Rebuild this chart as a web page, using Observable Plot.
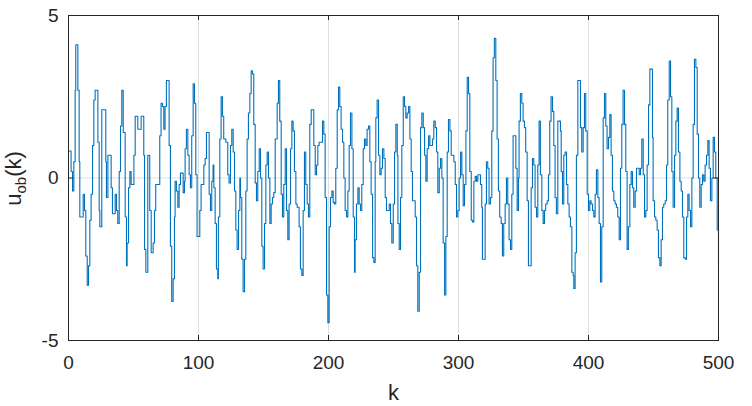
<!DOCTYPE html>
<html><head><meta charset="utf-8">
<script src="https://cdn.jsdelivr.net/npm/d3@7"></script>
<script src="https://cdn.jsdelivr.net/npm/@observablehq/plot@0.6"></script>
<style>html,body{margin:0;padding:0;background:#fff}svg{display:block}</style>
</head><body><div id="chart"></div>
<script>
// [k, u_ob(k)] : value starting at step k (stairs)
const uobSteps = [
[0,0.83],[2.0,0.2],[3.1,-0.4],[4.1,0.5],[5.1,2.7],[5.6,4.1],[7.2,2.7],[8.2,0.5],[8.7,-1.2],[11.3,-0.5],[12.3,-1.0],[13.3,-2.4],[14.4,-3.3],[15.4,-2.7],[16.4,-1.3],[17.4,-0.5],[18.5,1.0],[19.5,2.4],[20.5,2.7],[22.6,1.1],[23.6,-1.0],[24.1,-1.5],[25.6,2.1],[28.7,0.5],[29.2,-0.6],[30.3,0.7],[32.8,-0.3],[33.8,-1.1],[35.9,-0.5],[36.9,-1.0],[37.9,-1.4],[39.0,0.2],[40.0,1.6],[41.0,2.7],[42.1,1.4],[43.6,-1.2],[44.6,-2.7],[45.1,-2.0],[46.2,-0.3],[47.2,0.2],[48.2,-0.2],[50.3,0.7],[51.3,1.9],[53.3,1.5],[55.9,1.9],[57.9,0.7],[58.5,-2.2],[59.5,-2.9],[61.0,0.7],
[62.5,-1.0],[63.6,-2.3],[65.1,-2.0],[66.1,-1.0],[67.1,-0.2],[70.2,1.3],[71.2,2.3],[72.3,2.2],[73.3,1.5],[74.3,2.2],[75.3,3.0],[77.4,1.0],[78.4,-2.1],[79.4,-3.8],[80.5,-3.1],[81.5,-1.2],[82.0,-0.1],[83.0,-0.4],[84.1,-0.9],[85.1,-0.2],[86.1,0.15],[88.2,-0.45],[89.2,-0.1],[89.7,0.9],[90.7,1.5],[91.8,0.7],[92.8,0.1],[93.8,-0.3],[94.8,1.3],[95.9,2.9],[96.9,2.3],[97.9,0.1],[98.9,-1.8],[101.0,-1.0],[102.0,-0.2],[104.1,0.4],[105.1,0.6],[106.1,1.4],[108.2,-0.5],[109.2,-1.0],[110.2,-0.1],[111.2,0.4],[111.8,-0.3],[112.8,-1.4],[113.8,-2.8],[114.8,-3.1],[115.3,-1.2],[116.4,1.2],[117.4,2.5],[118.4,1.9],[119.4,1.2],[121.0,1.1],[122.5,0.1],[123.5,-0.15],[124.6,1.0],[125.6,1.5],
[126.7,0.8],[127.7,-0.4],[128.7,-1.6],[129.7,-2.2],[130.8,-1.0],[131.8,0.0],[132.3,-0.6],[133.3,-2.5],[134.3,-3.5],[135.4,-2.5],[136.4,-0.4],[137.4,1.2],[138.4,2.0],[139.5,2.6],[140.5,3.3],[141.5,3.2],[142.5,1.65],[143.6,-0.15],[144.6,-0.7],[145.6,0.2],[146.7,0.9],[147.7,0.0],[148.7,-2.1],[149.7,-2.8],[150.8,-1.4],[151.8,0.4],[152.8,0.8],[153.8,0.0],[154.9,-1.4],[155.9,-0.8],[156.9,-0.6],[157.9,-0.45],[159.0,1.2],[160.5,2.3],[161.5,3.0],[162.5,1.75],[163.6,-0.5],[164.6,-1.2],[165.6,-0.2],[166.7,0.9],[167.7,-1.0],[168.7,-1.9],[169.7,-0.8],[170.8,0.9],[171.8,1.75],[172.8,1.45],[173.8,0.2],[174.9,-0.8],[175.9,-0.9],[177.4,-1.5],[178.4,-2.8],[179.5,-3.0],[180.5,-1.0],[181.5,0.8],[182.5,-0.2],[183.6,-0.8],[184.6,-1.2],[185.6,1.65],[186.7,2.1],[188.7,1.0],
[189.8,0.1],[190.8,0.4],[191.8,1.0],[192.8,1.1],[195.4,1.75],[196.4,1.35],[197.4,-0.6],[198.5,-3.6],[199.5,-4.45],[200.5,-1.5],[201.5,-0.6],[202.6,-0.4],[203.6,-0.75],[204.6,-0.8],[205.6,0.3],[206.7,2.1],[207.7,2.8],[208.7,2.2],[209.7,1.5],[210.8,1.1],[211.8,0.0],[212.8,-1.0],[213.9,-1.2],[214.9,-0.4],[215.9,1.0],[216.9,2.0],[218.0,0.9],[219.0,-1.2],[220.0,-2.9],[220.5,-1.9],[221.5,-0.8],[222.6,-0.3],[223.6,-0.8],[224.6,-1.0],[225.6,-0.2],[226.7,0.9],[227.7,1.2],[228.7,1.0],[229.7,1.5],[230.8,1.6],[231.8,0.5],[232.8,-0.5],[233.9,-2.45],[234.9,-2.6],[235.9,0.5],[236.4,1.85],[237.4,2.4],[238.5,0.7],[239.5,0.1],[240.5,0.3],[241.5,0.9],[242.6,0.6],[243.6,-0.6],[244.6,-1.0],[246.7,-0.8],[247.7,-1.4],[248.7,-2.0],[249.8,-0.8],[250.8,0.8],[251.8,1.65],
[252.9,0.7],[253.4,-1.4],[254.4,-2.2],[255.4,-0.6],[256.4,1.0],[257.5,2.5],[258.5,2.2],[259.5,1.85],[260.5,2.0],[261.6,2.2],[262.6,1.2],[263.6,0.2],[264.6,-0.7],[266.7,-1.2],[267.7,-2.7],[268.7,-4.1],[269.8,-2.9],[270.8,1.55],[271.8,2.0],[272.9,1.55],[273.9,0.7],[274.9,-0.1],[275.9,0.9],[277.0,1.3],[278.0,1.0],[280.0,1.2],[281.0,1.75],[282.1,1.55],[283.1,0.8],[284.1,-0.45],[285.2,0.3],[286.2,0.6],[287.2,0.0],[288.2,-2.0],[289.3,-3.6],[290.3,-1.8],[291.3,0.8],[292.3,1.8],[293.4,1.45],[294.4,0.7],[296.4,0.5],[297.5,-0.2],[298.5,-1.2],[299.5,-1.0],[300.5,0.0],[301.6,0.8],[302.6,0.1],[303.6,-0.85],[304.6,-0.2],[305.7,1.45],[306.7,3.1],[307.7,2.6],[308.7,0.2],[309.8,-1.3],[310.8,-1.35],[311.8,-0.1],[312.9,0.05],[313.9,-0.1],[314.9,0.1],
[316.9,-0.2],[317.9,-0.9],[318.4,-2.5],[320.5,-0.8],[321.5,0.5],[322.5,0.3],[323.5,-0.8],[324.6,-0.6],[325.6,1.45],[326.6,3.7],[327.6,4.3],[328.7,3.0],[329.7,1.2],[330.7,-0.4],[331.7,-1.2],[332.8,-1.4],[333.8,-2.4],[334.8,-1.4],[335.9,-0.8],[336.9,0.0],[337.9,-0.8],[338.9,-1.9],[340.0,-2.2],[341.0,-0.5],[342.0,1.3],[344.1,0.3],[345.1,-1.0],[346.1,0.0],[346.6,1.75],[347.6,2.6],[348.7,2.3],[349.7,1.75],[350.7,1.55],[351.7,0.8],[352.8,-0.7],[353.8,-2.7],[355.9,-0.3],[356.9,0.6],[357.9,0.4],[358.9,-0.9],[360.0,-1.2],[361.0,0.4],[362.0,1.75],[363.0,0.1],[364.1,-1.0],[365.1,-1.4],[366.1,-1.0],[367.1,-0.8],[368.2,-0.7],[369.2,0.1],[370.2,1.75],[371.2,2.5],[372.3,2.05],[373.3,1.0],[374.3,-0.6],[375.3,-1.1],[376.4,1.75],[378.4,1.45],
[379.0,0.2],[380.0,-0.8],[381.0,0.7],[382.0,0.8],[383.1,-0.2],[384.1,-0.8],[385.1,-1.2],[386.1,-1.5],[387.2,-2.9],[388.2,-3.0],[388.7,-3.4],[389.7,-2.3],[390.7,0.7],[391.8,3.0],[393.8,1.55],[394.8,0.8],[395.9,1.55],[396.9,2.6],[397.9,1.45],[399.0,-0.5],[400.0,-1.0],[401.0,-0.7],[402.0,-0.8],[403.1,-1.0],[404.1,-1.2],[405.1,-0.5],[406.1,0.25],[407.2,-0.6],[408.2,-1.4],[409.2,-3.2],[410.2,-1.5],[411.3,1.85],[412.3,2.6],[413.3,1.6],[414.3,0.9],[415.4,1.25],[416.4,1.95],[417.4,0.7],[418.4,-0.4],[419.5,-0.7],[420.5,-0.8],[421.5,-0.9],[422.5,-1.2],[423.6,-1.9],[424.6,0.3],[425.6,1.65],[426.6,2.7],[427.7,1.65],[428.7,0.2],[429.7,-2.2],[430.7,-1.5],[431.8,-0.2],[432.8,0.2],[433.8,-0.3],[434.8,-0.9],[435.9,-0.4],[436.9,0.3],[439.0,0.1],[440.0,0.3],[441.0,1.2],
[442.1,0.1],[443.1,-1.2],[444.1,-1.0],[445.1,0.4],[446.2,2.25],[447.2,3.35],[449.2,1.25],[449.7,-0.7],[450.8,-1.2],[451.8,-1.3],[452.8,-1.6],[453.8,-2.45],[454.9,-2.7],[455.9,-1.9],[456.9,-0.9],[457.9,-0.8],[459.0,-0.7],[460.0,0.4],[461.0,2.4],[462.1,3.6],[463.1,2.5],[464.1,0.2],[465.1,-0.9],[466.2,0.7],[467.2,1.75],[468.2,2.15],[469.2,0.8],[470.3,-0.1],[471.3,-0.4],[472.3,-1.2],[473.3,-2.45],[474.4,-2.5],[475.4,-1.2],[476.4,-0.5],[477.4,-1.0],[478.5,-1.5],[479.5,0.0],[480.5,1.65],[481.5,3.65],[482.6,3.4],[483.6,1.35],[484.6,0.0],[485.6,-0.9],[486.7,-0.2],[487.7,0.1],[488.7,-0.1],[489.7,0.4],[490.8,0.7],[491.8,1.15],[492.8,0.3],[493.8,-0.7],[494.9,0.0],[495.9,1.25],[496.9,0.8],[497.9,0.0],[499.0,-1.6],[500,-2.7]
];
const xTicks = [0, 100, 200, 300, 400, 500];
const yTicks = [-5, 0, 5];
const xGrid = [100, 200, 300, 400];
const yGrid = [0];
const xLabel = "k";
const yLabelMain = "u", yLabelSub = "ob", yLabelTail = "(k)";

const data = uobSteps.map(([k, u]) => ({k, u}));

const W = 752, H = 406, mL = 68, mR = 34, mT = 15, mB = 66;
const plotW = W - mL - mR, plotH = H - mT - mB;
const font = '"Liberation Sans", Arial, Helvetica, sans-serif';
const ink = "#262626";

function yLabelMark() {
  const g = d3.create("svg:g");
  const t = g.append("text")
    .attr("transform", `translate(21,${mT + plotH / 2 + 1}) rotate(-90)`)
    .attr("text-anchor", "middle")
    .attr("fill", ink)
    .attr("font-family", font)
    .attr("font-size", 22);
  t.append("tspan").text(yLabelMain);
  t.append("tspan").attr("font-size", 15).attr("dy", 5).text(yLabelSub);
  t.append("tspan").attr("dy", -5).text(yLabelTail);
  return g.node();
}

const chart = Plot.plot({
  width: W, height: H,
  marginLeft: mL, marginRight: mR, marginTop: mT, marginBottom: mB,
  style: {fontFamily: font, background: "white", color: ink, overflow: "visible"},
  x: {domain: [0, 500], ticks: xTicks},
  y: {domain: [-5, 5], ticks: yTicks},
  marks: [
    Plot.ruleX(xGrid, {stroke: "#dedede", strokeWidth: 1}),
    Plot.ruleY(yGrid, {stroke: "#dedede", strokeWidth: 1}),
    Plot.line(data, {x: "k", y: "u", curve: "step-after", stroke: "#0072BD", strokeWidth: 1.1}),
    Plot.tickX(xTicks, {x: d => d, stroke: ink, insetTop: plotH - 5}),
    Plot.tickX(xTicks, {x: d => d, stroke: ink, insetBottom: plotH - 5}),
    Plot.tickY(yTicks, {y: d => d, stroke: ink, insetRight: plotW - 5}),
    Plot.tickY(yTicks, {y: d => d, stroke: ink, insetLeft: plotW - 5}),
    Plot.frame({stroke: ink, strokeWidth: 1}),
    Plot.axisX(xTicks, {tickSize: 0, tickPadding: 15, fontSize: 19, fill: ink, label: null}),
    Plot.axisY(yTicks, {tickSize: 0, tickPadding: 10, fontSize: 19, fill: ink, label: null, tickFormat: d => d < 0 ? "-" + Math.abs(d) : String(d)}),
    Plot.text([xLabel], {frameAnchor: "bottom", dy: 52, fontSize: 22, fill: ink, lineAnchor: "middle"}),
    yLabelMark
  ]
});
document.getElementById("chart").appendChild(chart);
</script>
</body></html>
